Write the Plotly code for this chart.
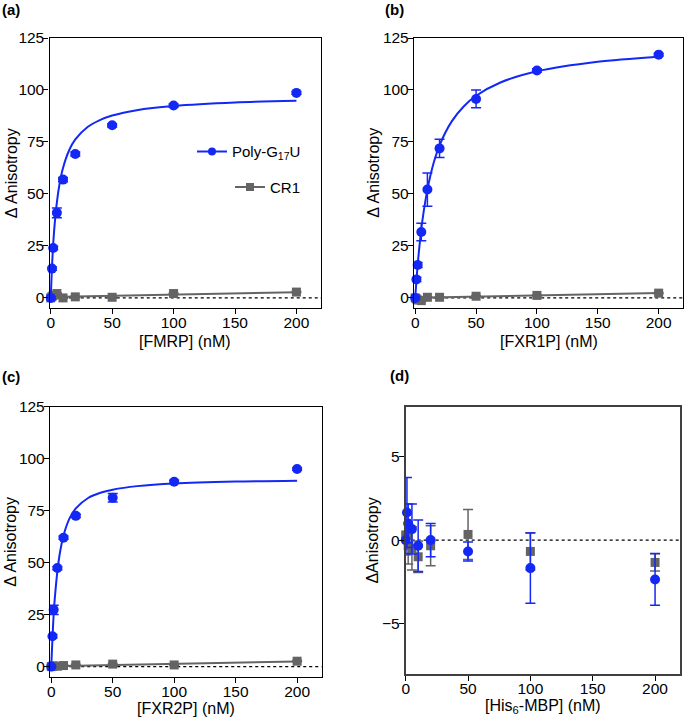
import plotly.graph_objects as go

# ---------------- data ----------------
conc = [0, 1, 2, 5, 10, 20, 50, 100, 200]

fmrp_poly = [0, 14.1, 24.0, 40.9, 56.9, 69.2, 83.0, 92.5, 98.6]
fmrp_poly_err = [0.5, 0.8, 0.9, 2.3, 1.0, 1.0, 0.8, 0.8, 0.7]
fmrp_cr1 = [0, 0.6, 1.2, 2.1, 0.0, 0.5, 0.3, 2.1, 2.8]
fmrp_cr1_err = [0.3, 0.3, 0.3, 0.4, 0.3, 0.3, 0.3, 0.3, 0.3]

fxr1_poly = [0, 8.9, 15.8, 31.7, 52.1, 71.9, 95.7, 109.4, 117.0]
fxr1_poly_err = [0.5, 1.0, 1.2, 4.2, 8.0, 4.4, 4.3, 0.8, 0.6]
fxr1_cr1 = [0, -0.5, -1.0, -1.3, 0.3, 0.3, 0.8, 1.2, 2.3]
fxr1_cr1_err = [0.3, 0.3, 0.3, 0.4, 0.3, 0.3, 0.3, 0.3, 0.3]

fxr2_poly = [0, 14.6, 27.3, 47.4, 62.0, 72.5, 81.2, 88.9, 95.0]
fxr2_poly_err = [0.5, 0.8, 2.2, 0.8, 0.8, 0.8, 2.0, 0.7, 0.6]
fxr2_cr1 = [0, 0.2, 0.3, 0.2, 0.5, 0.8, 1.2, 0.8, 2.6]
fxr2_cr1_err = [0.3, 0.3, 0.3, 0.3, 0.3, 0.3, 0.3, 0.3, 0.3]

mbp_poly = [0, 1.66, 1.0, 0.66, -0.34, 0.0, -0.68, -1.68, -2.36]
mbp_poly_err = [0.8, 2.1, 1.16, 1.5, 1.54, 1.0, 0.57, 2.1, 1.55]
mbp_cr1 = [0.3, 0.3, -0.34, -0.5, -1.0, -0.34, 0.34, -0.68, -1.34]
mbp_cr1_err = [1.2, 0.8, 1.1, 1.3, 0.95, 1.2, 1.5, 1.12, 0.52]

# fitted binding curves
curve_x = [0, 1, 2, 3, 5, 7, 10, 15, 20, 30, 40, 50, 70, 100, 150, 200]
fmrp_fit = [0, 14.8, 25.7, 34.0, 46.0, 54.2, 62.5, 71.0, 76.2, 82.2, 85.5, 87.7, 90.3, 92.3, 94.0, 94.8]
fxr1_fit = [0, 8.4, 15.7, 22.1, 33.0, 41.7, 52.1, 64.6, 73.4, 84.9, 92.2, 97.2, 103.6, 109.0, 113.6, 116.0]
fxr2_fit = [0, 13.5, 25.5, 33.5, 45.8, 54.5, 63.1, 71.4, 76.1, 81.1, 83.6, 85.1, 86.8, 88.1, 89.0, 89.4]

# CR1 linear fits (endpoints)
line_x = [0, 200]
fmrp_cr1_fit = [0.45, 2.7]
fxr1_cr1_fit = [0.1, 2.3]
fxr2_cr1_fit = [0.2, 2.5]

xticks = [0, 50, 100, 150, 200]
yticks_abc = [0, 25, 50, 75, 100, 125]
yticks_d = [-5, 0, 5]

x_titles = ["[FMRP] (nM)", "[FXR1P] (nM)", "[FXR2P] (nM)", "[His<sub>6</sub>-MBP] (nM)"]
y_titles = ["Δ Anisotropy", "Δ Anisotropy", "Δ Anisotropy", "ΔAnisotropy"]
panel_labels = ["(a)", "(b)", "(c)", "(d)"]

BLUE = "#1428f5"
GRAY = "#646464"
FONT = "Liberation Sans, Arial, sans-serif"

fig = go.Figure()

panels = [
    ("", fmrp_poly, fmrp_poly_err, fmrp_cr1, fmrp_cr1_err, fmrp_fit, fmrp_cr1_fit),
    ("2", fxr1_poly, fxr1_poly_err, fxr1_cr1, fxr1_cr1_err, fxr1_fit, fxr1_cr1_fit),
    ("3", fxr2_poly, fxr2_poly_err, fxr2_cr1, fxr2_cr1_err, fxr2_fit, fxr2_cr1_fit),
]

for sfx, poly, perr, cr1, cerr, fit, cfit in panels:
    xa, ya = "x" + sfx, "y" + sfx
    fig.add_trace(go.Scatter(x=line_x, y=cfit, mode="lines", line=dict(color=GRAY, width=2),
                             xaxis=xa, yaxis=ya, showlegend=False, cliponaxis=False))
    fig.add_trace(go.Scatter(x=conc, y=cr1, mode="markers",
                             marker=dict(symbol="square", size=9, color=GRAY),
                             error_y=dict(type="data", array=cerr, color=GRAY, thickness=1.5, width=5),
                             xaxis=xa, yaxis=ya, showlegend=False, cliponaxis=False))
    fig.add_trace(go.Scatter(x=curve_x, y=fit, mode="lines", line=dict(color=BLUE, width=2, shape="spline", smoothing=0.8),
                             xaxis=xa, yaxis=ya, showlegend=False, cliponaxis=False))
    fig.add_trace(go.Scatter(x=conc, y=poly, mode="markers",
                             marker=dict(symbol="circle", size=10, color=BLUE),
                             error_y=dict(type="data", array=perr, color=BLUE, thickness=1.5, width=5),
                             xaxis=xa, yaxis=ya, showlegend=False, cliponaxis=False))

# panel d
fig.add_trace(go.Scatter(x=conc, y=mbp_cr1, mode="markers",
                         marker=dict(symbol="square", size=9, color=GRAY),
                         error_y=dict(type="data", array=mbp_cr1_err, color=GRAY, thickness=1.5, width=5),
                         xaxis="x4", yaxis="y4", showlegend=False, cliponaxis=False))
fig.add_trace(go.Scatter(x=conc, y=mbp_poly, mode="markers",
                         marker=dict(symbol="circle", size=10, color=BLUE),
                         error_y=dict(type="data", array=mbp_poly_err, color=BLUE, thickness=1.5, width=5),
                         xaxis="x4", yaxis="y4", showlegend=False, cliponaxis=False))

# legend entries (panel a)
fig.add_trace(go.Scatter(x=[None], y=[None], mode="lines+markers", name="Poly-G<sub>17</sub>U",
                         line=dict(color=BLUE, width=2), marker=dict(symbol="circle", size=8, color=BLUE),
                         legend="legend", showlegend=True))
fig.add_trace(go.Scatter(x=[None], y=[None], mode="lines+markers", name="CR1",
                         line=dict(color=GRAY, width=2), marker=dict(symbol="square", size=8, color=GRAY),
                         legend="legend2", showlegend=True))

W, H = 685, 718

def px_x(v):
    return v / W

def px_y(v):
    return (H - v) / H

def xd(a, b):
    return [a / W, b / W]

def yd(top, bottom):
    return [(H - bottom) / H, (H - top) / H]

common = dict(showline=True, mirror=True, ticks="outside", ticklen=5, tickwidth=1.3,
              tickcolor="black", showgrid=False, zeroline=False, automargin=False,
              tickfont=dict(size=15.5, color="black", family=FONT))

def xaxis(dom, anchor, rng, lc="black", lw=1.3):
    d = dict(common)
    d.update(domain=dom, anchor=anchor, range=rng, tickvals=xticks, linecolor=lc, linewidth=lw,
             ticklabelstandoff=-5)
    return d

def yaxis(dom, anchor, rng, tv, lc="black", lw=1.3):
    d = dict(common)
    d.update(domain=dom, anchor=anchor, range=rng, tickvals=tv, linecolor=lc, linewidth=lw,
             ticklabelstandoff=-4)
    return d

# pixel boxes of the four plot areas: (left, right, top, bottom)
boxes = [(49.5, 321, 38, 308.3), (414, 683, 38, 308.3), (50, 321.7, 406.7, 677), (405.7, 680, 406.7, 673.5)]

fig.update_layout(
    width=W, height=H, margin=dict(l=0, r=0, t=0, b=0),
    paper_bgcolor="white", plot_bgcolor="white", template="none",
    font=dict(family=FONT, color="black"),
    xaxis=xaxis(xd(boxes[0][0], boxes[0][1]), "y", [-1, 220]),
    yaxis=yaxis(yd(boxes[0][2], boxes[0][3]), "x", [-5, 125], yticks_abc),
    xaxis2=xaxis(xd(boxes[1][0], boxes[1][1]), "y2", [-1, 220]),
    yaxis2=yaxis(yd(boxes[1][2], boxes[1][3]), "x2", [-5, 125], yticks_abc),
    xaxis3=xaxis(xd(boxes[2][0], boxes[2][1]), "y3", [-1, 220]),
    yaxis3=yaxis(yd(boxes[2][2], boxes[2][3]), "x3", [-5, 125], yticks_abc),
    xaxis4=xaxis(xd(boxes[3][0], boxes[3][1]), "y4", [0, 220], lc="#404040", lw=2),
    yaxis4=yaxis(yd(boxes[3][2], boxes[3][3]), "x4", [-8, 8], yticks_d, lc="#404040", lw=2),
    legend=dict(x=306 / W, y=(H - 151.7) / H, xanchor="right", yanchor="middle",
                bgcolor="rgba(0,0,0,0)", font=dict(size=15, family=FONT, color="black"), itemwidth=30),
    legend2=dict(x=306 / W, y=(H - 187.3) / H, xanchor="right", yanchor="middle",
                 bgcolor="rgba(0,0,0,0)", font=dict(size=15, family=FONT, color="black"), itemwidth=30),
)

# dotted zero lines
for xr, yr in [("x", "y"), ("x2", "y2"), ("x3", "y3"), ("x4", "y4")]:
    fig.add_shape(type="line", xref=xr, yref=yr, x0=0, x1=220, y0=0, y1=0,
                  line=dict(color="black", width=1.2, dash="dot"), layer="below")

# axis titles (placed as text below / left of each plot area)
xt_offset = [33.2, 33.2, 31.5, 33.0]
yt_center_x = [11, 373.5, 11, 372.5]
for i, (l, r, t, b) in enumerate(boxes):
    fig.add_annotation(text=x_titles[i], xref="paper", yref="paper",
                       x=px_x((l + r) / 2), y=px_y(b + xt_offset[i]),
                       xanchor="center", yanchor="middle", showarrow=False,
                       font=dict(size=16, family=FONT, color="black"))
    fig.add_annotation(text=y_titles[i], xref="paper", yref="paper", textangle=-90,
                       x=px_x(yt_center_x[i]), y=px_y((t + b) / 2),
                       xanchor="center", yanchor="middle", showarrow=False,
                       font=dict(size=16, family=FONT, color="black"))

label_pos = [(0, 9), (383, 9), (0, 376), (388, 375)]
for txt, (px, py) in zip(panel_labels, label_pos):
    fig.add_annotation(text="<b>%s</b>" % txt, xref="paper", yref="paper", x=px / W, y=(H - py) / H,
                       xanchor="left", yanchor="middle", showarrow=False,
                       font=dict(size=15, family=FONT, color="black"))

fig.write_html("out.html", config={"displayModeBar": False},
               post_script="document.body.style.margin='0';document.body.style.overflow='hidden';")
